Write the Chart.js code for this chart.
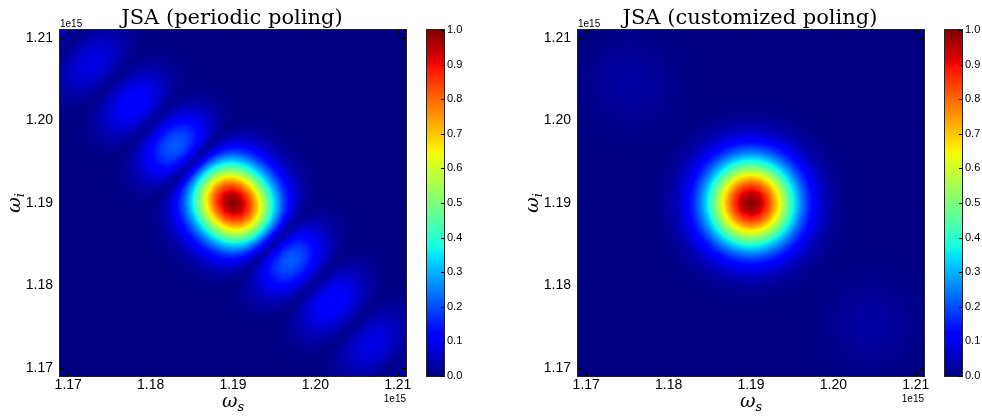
<!DOCTYPE html>
<html>
<head>
<meta charset="utf-8">
<script src="https://cdn.jsdelivr.net/npm/chart.js@4.4.0/dist/chart.umd.min.js"></script>
<style>
  html, body { margin: 0; padding: 0; background: #fff; }
  #wrap { position: relative; width: 982px; height: 418px; overflow: hidden; }
  .panel { position: absolute; top: 0; width: 464px; height: 418px; }
</style>
</head>
<body>
<div id="wrap">
  <div class="panel" style="left:0px"><canvas id="c1" width="464" height="418"></canvas></div>
  <div class="panel" style="left:518px"><canvas id="c2" width="464" height="418"></canvas></div>
</div>
<script>
// ---------------- data ----------------
const TITLES = ['JSA (periodic poling)', 'JSA (customized poling)'];
const X_TICKS = [1.17, 1.18, 1.19, 1.20, 1.21];      // ω_s, units of 1e15
const Y_TICKS = [1.17, 1.18, 1.19, 1.20, 1.21];      // ω_i, units of 1e15
const CB_TICKS = [0.0, 0.1, 0.2, 0.3, 0.4, 0.5, 0.6, 0.7, 0.8, 0.9, 1.0];
const OFFSET_TEXT = '1e15';
const AXIS_MIN = 1.169, AXIS_MAX = 1.211;

// sampling grid of the JSA (units of 1e15): 1.169 ... 1.211, step 0.001
const GRID_START = 1.169, GRID_STEP = 0.001, GRID_N = 43;

// |JSA| profiles vs |offset| in steps of 0.001e15
// pump envelope: vs (ω_s + ω_i − 2.38e15); phase matching: vs (ω_s − ω_i)
const pumpPeriodic = [1.000,0.977,0.910,0.808,0.685,0.554,0.427,0.314,0.220,0.147,0.094,0.057,0.033,0.018,0.010,0.005,0.002,0.001];
const pmPeriodic   = [1.000,0.983,0.933,0.853,0.748,0.623,0.488,0.348,0.213,0.088,0.020,0.107,0.169,0.205,0.217,0.207,0.178,0.136,0.086,0.031,0.020,0.065,0.099,0.121,0.128,0.123,0.105,0.080,0.049,0.014,0.020,0.050,0.072,0.086,0.091,0.087,0.074,0.055,0.031,0.005,0.020,0.041,0.058];
const pumpCustom   = [1.000,0.982,0.929,0.847,0.744,0.630,0.514,0.404,0.306,0.224,0.157,0.107,0.070,0.044,0.027,0.016,0.009,0.005,0.003,0.001];
const pmCustom     = [1.000,0.982,0.929,0.847,0.744,0.630,0.514,0.404,0.306,0.224,0.157,0.107,0.070,0.044,0.027,0.016,0.009,0.006,0.005,0.006,0.008,0.010,0.013,0.016,0.019,0.022,0.025,0.027,0.029,0.030,0.030,0.029,0.027,0.025,0.022,0.018,0.014,0.010,0.007,0.004,0.002,0.001,0.000];

// ---------------- helpers ----------------
function prof(arr, k) { return k < arr.length ? arr[k] : 0; }

function buildNodes(pump, pm) {
  const nodes = [];
  for (let i = 0; i < GRID_N; i++) {
    for (let j = 0; j < GRID_N; j++) {
      const ks = Math.abs(i + j - (GRID_N - 1));
      const kd = Math.abs(i - j);
      nodes.push({ x: +(GRID_START + i * GRID_STEP).toFixed(4), y: +(GRID_START + j * GRID_STEP).toFixed(4),
                   v: prof(pump, ks) * prof(pm, kd) });
    }
  }
  return nodes;
}

const JET = {
  r: [[0,0],[0.35,0],[0.66,1],[0.89,1],[1,0.5]],
  g: [[0,0],[0.125,0],[0.375,1],[0.64,1],[0.91,0],[1,0]],
  b: [[0,0.5],[0.11,1],[0.34,1],[0.65,0],[1,0]]
};
function seg(t, pts) {
  for (let k = 1; k < pts.length; k++) {
    if (t <= pts[k][0]) {
      const a = pts[k-1], b = pts[k];
      return a[1] + (b[1] - a[1]) * (t - a[0]) / (b[0] - a[0]);
    }
  }
  return pts[pts.length-1][1];
}
function jet(v) {
  const t = Math.max(0, Math.min(1, v));
  return [Math.round(255*seg(t, JET.r)), Math.round(255*seg(t, JET.g)), Math.round(255*seg(t, JET.b))];
}

const CB_LEFT_GAP = 21;   // gap between plot frame and colorbar (px)
const CB_WIDTH = 17;

// ---------------- heatmap + decorations plugin ----------------
const heatPlugin = {
  id: 'heat',
  afterLayout(chart) {
    // the colorbar axis sits to the right of the colorbar, not against the plot frame
    const cb = chart.scales.cb;
    cb.left += CB_LEFT_GAP;
    cb.right += CB_LEFT_GAP;
  },
  beforeDatasetsDraw(chart) {
    const ds = chart.data.datasets[0];
    const nodes = ds.data;
    const N = GRID_N;
    const grid = new Float32Array(N * N);
    nodes.forEach((p, idx) => { grid[idx] = p.v; });
    const xs = chart.scales.x, ys = chart.scales.y, ca = chart.chartArea;
    const L = Math.round(ca.left), T = Math.round(ca.top);
    const W = Math.round(ca.right) - L, H = Math.round(ca.bottom) - T;
    const fx = new Float32Array(W), fy = new Float32Array(H);
    for (let px = 0; px < W; px++) fx[px] = (xs.getValueForPixel(L + px + 0.5) - GRID_START) / GRID_STEP;
    for (let py = 0; py < H; py++) fy[py] = (ys.getValueForPixel(T + py + 0.5) - GRID_START) / GRID_STEP;
    const off = document.createElement('canvas');
    off.width = W; off.height = H;
    const octx = off.getContext('2d');
    const img = octx.createImageData(W, H);
    for (let py = 0; py < H; py++) {
      let j = Math.max(0, Math.min(N - 1.0001, fy[py]));
      const j0 = Math.floor(j), tj = j - j0;
      for (let px = 0; px < W; px++) {
        let i = Math.max(0, Math.min(N - 1.0001, fx[px]));
        const i0 = Math.floor(i), ti = i - i0;
        const v00 = grid[i0*N + j0], v10 = grid[(i0+1)*N + j0];
        const v01 = grid[i0*N + j0 + 1], v11 = grid[(i0+1)*N + j0 + 1];
        const v = (v00*(1-ti) + v10*ti)*(1-tj) + (v01*(1-ti) + v11*ti)*tj;
        const c = jet(v);
        const o = (py*W + px) * 4;
        img.data[o] = c[0]; img.data[o+1] = c[1]; img.data[o+2] = c[2]; img.data[o+3] = 255;
      }
    }
    octx.putImageData(img, 0, 0);
    chart.ctx.drawImage(off, L, T);
  },
  afterDraw(chart) {
    const ctx = chart.ctx, ca = chart.chartArea;
    const xs = chart.scales.x, ys = chart.scales.y, cb = chart.scales.cb;
    ctx.save();
    // frame
    ctx.strokeStyle = '#222'; ctx.lineWidth = 1;
    ctx.strokeRect(Math.round(ca.left) - 0.5, Math.round(ca.top) - 0.5, Math.round(ca.right) - Math.round(ca.left) + 1, Math.round(ca.bottom) - Math.round(ca.top) + 1);
    // inward ticks on four sides
    ctx.strokeStyle = '#000';
    ctx.beginPath();
    X_TICKS.forEach(v => {
      const x = Math.round(xs.getPixelForValue(v)) + 0.5;
      ctx.moveTo(x, ca.bottom); ctx.lineTo(x, ca.bottom - 4);
      ctx.moveTo(x, ca.top); ctx.lineTo(x, ca.top + 4);
    });
    Y_TICKS.forEach(v => {
      const y = Math.round(ys.getPixelForValue(v)) + 0.5;
      ctx.moveTo(ca.left, y); ctx.lineTo(ca.left + 4, y);
      ctx.moveTo(ca.right, y); ctx.lineTo(ca.right - 4, y);
    });
    ctx.stroke();
    // colorbar
    const cbL = Math.round(ca.right) + CB_LEFT_GAP, cbW = CB_WIDTH;
    const top = Math.round(cb.top), bot = Math.round(cb.bottom);
    for (let y = top; y < bot; y++) {
      const c = jet(cb.getValueForPixel(y + 0.5));
      ctx.fillStyle = 'rgb(' + c[0] + ',' + c[1] + ',' + c[2] + ')';
      ctx.fillRect(cbL, y, cbW, 1);
    }
    ctx.strokeStyle = '#222';
    ctx.strokeRect(cbL - 0.5, top - 0.5, cbW + 1, bot - top + 1);
    ctx.strokeStyle = '#000';
    ctx.beginPath();
    CB_TICKS.forEach(v => {
      const y = Math.round(cb.getPixelForValue(v)) + 0.5;
      ctx.moveTo(cbL + cbW, y); ctx.lineTo(cbL + cbW - 3, y);
    });
    ctx.stroke();
    // offset texts
    ctx.fillStyle = '#000';
    ctx.font = '10px "Liberation Sans"';
    ctx.textBaseline = 'alphabetic';
    ctx.textAlign = 'left';
    ctx.fillText(OFFSET_TEXT, ca.left, 27);
    ctx.textAlign = 'right';
    ctx.fillText(OFFSET_TEXT, ca.right, 402);
    // axis labels ω_s, ω_i
    ctx.textAlign = 'left';
    const bigF = 'italic 19px "DejaVu Serif"', subF = 'italic 13px "DejaVu Serif"';
    ctx.font = bigF; const w1 = ctx.measureText('ω').width;
    ctx.font = subF; const w2 = ctx.measureText('s').width, w3 = ctx.measureText('i').width;
    const cx = (ca.left + ca.right) / 2;
    let sx = cx - (w1 + w2) / 2;
    ctx.font = bigF; ctx.fillText('ω', sx, 407);
    ctx.font = subF; ctx.fillText('s', sx + w1, 411);
    ctx.translate(20, (ca.top + ca.bottom) / 2);
    ctx.rotate(-Math.PI / 2);
    sx = -(w1 + w3) / 2;
    ctx.font = bigF; ctx.fillText('ω', sx, 0);
    ctx.font = subF; ctx.fillText('i', sx + w1, 4);
    ctx.restore();
  }
};

Chart.defaults.font.family = '"Liberation Sans", Arial, sans-serif';
Chart.defaults.color = '#000';

function makeChart(id, title, pump, pm) {
  return new Chart(document.getElementById(id), {
    type: 'scatter',
    data: { datasets: [{ label: title, data: buildNodes(pump, pm), pointRadius: 0, pointHoverRadius: 0 }] },
    plugins: [heatPlugin],
    options: {
      responsive: false, animation: false, events: [],
      layout: { padding: 0 },
      plugins: {
        legend: { display: false }, tooltip: { enabled: false },
        title: { display: true, text: title, color: '#000',
                 font: { family: '"DejaVu Serif"', size: 21, weight: 'normal', lineHeight: 1 },
                 padding: { top: 7.7, bottom: 1.3 } }
      },
      scales: {
        x: { type: 'linear', position: 'bottom', min: AXIS_MIN, max: AXIS_MAX,
             afterBuildTicks: s => { s.ticks = X_TICKS.map(v => ({ value: v })); },
             afterFit: s => { s.height = 42; },
             grid: { display: false, drawTicks: false }, border: { display: false },
             ticks: { callback: v => Number(v).toFixed(2), font: { size: 14 }, padding: 1, maxRotation: 0, autoSkip: false } },
        y: { type: 'linear', position: 'left', min: AXIS_MIN, max: AXIS_MAX,
             afterBuildTicks: s => { s.ticks = Y_TICKS.map(v => ({ value: v })); },
             afterFit: s => { s.width = 60; },
             grid: { display: false, drawTicks: false }, border: { display: false },
             ticks: { callback: v => Number(v).toFixed(2), font: { size: 14 }, padding: 7, autoSkip: false } },
        cb: { type: 'linear', position: 'right', min: 0, max: 1,
              afterBuildTicks: s => { s.ticks = CB_TICKS.map(v => ({ value: v })); },
              afterFit: s => { s.width = 58; },
              grid: { display: false, drawTicks: false }, border: { display: false },
              ticks: { callback: v => Number(v).toFixed(1), font: { size: 11 }, padding: 20, autoSkip: false } }
      }
    }
  });
}

makeChart('c1', TITLES[0], pumpPeriodic, pmPeriodic);
makeChart('c2', TITLES[1], pumpCustom, pmCustom);
</script>
</body>
</html>
